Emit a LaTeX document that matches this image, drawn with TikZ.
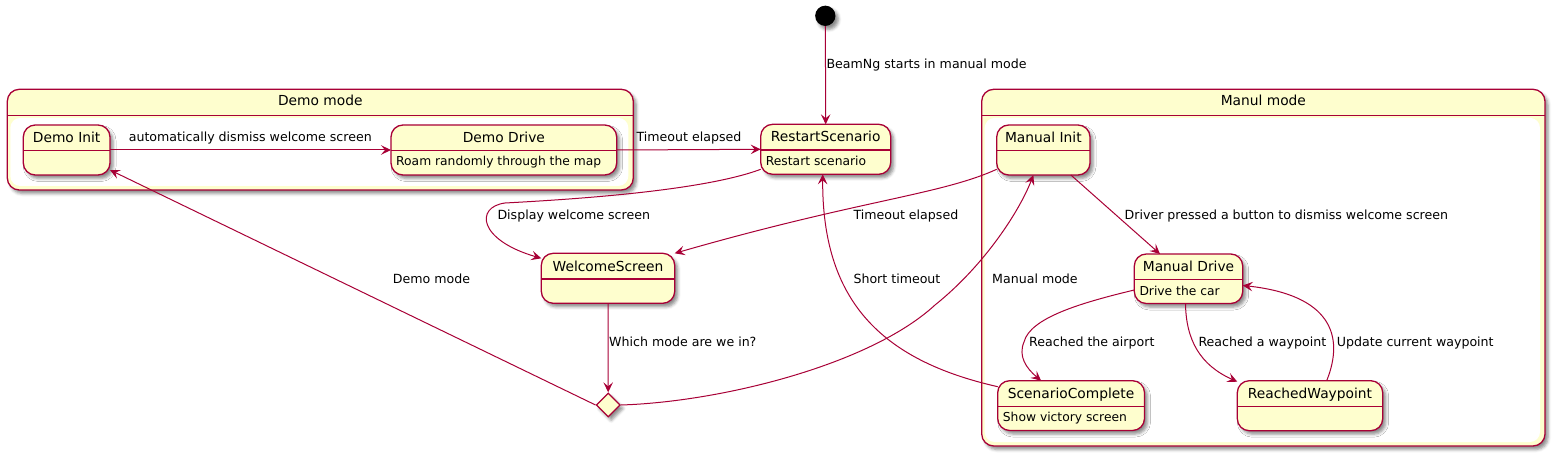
\documentclass[tikz,border=0pt]{standalone}
\usepackage{fontspec}
\setmainfont{DejaVu Sans}
\usetikzlibrary{fit,arrows.meta,shadows.blur,shapes.geometric,calc}
\definecolor{umlred}{RGB}{168,0,54}
\definecolor{umlfill}{RGB}{254,254,206}
\newcommand{\fnName}{\fontsize{13.8}{16}\selectfont}
\newcommand{\fnLab}{\fontsize{12.6}{15}\selectfont}
\newcommand{\fnDesc}{\fontsize{12.3}{15}\selectfont}
\tikzset{
  bd/.style={draw=umlred, line width=1.3pt},
  shad/.style={blur shadow={shadow xshift=3pt, shadow yshift=-3.5pt, shadow blur radius=3pt, shadow opacity=45}},
  st/.style={bd, fill=umlfill, rounded corners=12pt, inner sep=0pt, outer sep=0pt, shad},
  comp/.style={bd, fill=umlfill, rounded corners=12pt, inner sep=0pt, outer sep=0pt, shad},
  nm/.style={font=\fnName, inner sep=0pt, text=black},
  ds/.style={font=\fnDesc, inner sep=0pt, text=black},
  lb/.style={font=\fnLab, inner sep=0pt, text=black, anchor=base west},
  ar/.style={draw=umlred, line width=1pt, -{Stealth[length=10pt,width=9.5pt,inset=4pt]}},
}
\newcommand{\mkstate}[7]{%
  \node[st, fit={(#2,#3) (#4,#5)}] (#1) {};
  \node[nm, anchor=base] (#1-t) at ([yshift=-17.7pt]#1.north) {#6};
  \draw[bd] ([yshift=-25.8pt]#1.north west) -- ([yshift=-25.8pt]#1.north east);
  \node[ds, anchor=base west] (#1-d) at ([xshift=5pt,yshift=-41pt]#1.north west) {#7};
}
\newcommand{\mkcomp}[6]{%
  \node[comp, fit={(#2,#3) (#4,#5)}] (#1) {};
  \draw[bd] ([yshift=-26.4pt]#1.north west) -- ([yshift=-26.4pt]#1.north east);
  \fill[white, rounded corners=10pt] ($(#1.north west)+(3,28.6)$) rectangle ($(#1.south east)+(-5,-4)$);
  \node[nm, anchor=base] (#1-t) at ([yshift=-16.4pt]#1.north) {#6};
}
\begin{document}
\begin{tikzpicture}[x=1pt, y=-1pt]
\useasboundingbox (0,0) rectangle (1555,457);
% composites
\mkcomp{dm}{7.3}{89.3}{633.3}{190}{Demo mode}
\mkcomp{mm}{981.7}{89.3}{1545}{446}{Manul mode}
% states
\mkstate{di}{23.3}{125}{110}{175}{Demo Init}{}
\mkstate{dd}{391}{125}{616.7}{175}{Demo Drive}{Roam randomly through the map}
\mkstate{rs}{760.7}{124.3}{890.7}{174.3}{RestartScenario}{Restart scenario}
\mkstate{ws}{541.3}{253.3}{674.7}{303.3}{WelcomeScreen}{}
\mkstate{mi}{996.7}{125}{1090}{175}{Manual Init}{}
\mkstate{md}{1134.3}{254}{1242.7}{303.5}{Manual Drive}{Drive the car}
\mkstate{sc}{997.7}{380.7}{1144.5}{430.5}{ScenarioComplete}{Show victory screen}
\mkstate{rw}{1237.3}{380.7}{1382.7}{430.7}{ReachedWaypoint}{}
% initial and choice
\node[circle, fill=black, minimum size=20.3pt, inner sep=0pt, shad] (init) at (825.3,15.8) {};
\node[diamond, shape aspect=1, bd, fill=umlfill, minimum width=24pt, minimum height=24pt, inner sep=0pt, shad] (ch) at (608.2,405) {};
% connectors
\draw[ar] (init) -- (rs.north);
\draw[ar] (di.east) -- (dd.west);
\draw[ar] (dd.east) -- (rs.west);
\draw[ar] ([yshift=5pt]rs.south west) .. controls (700,192) and (560,200) .. (505,203)
          .. controls (475,207) and (478,240) .. ([yshift=-5pt]ws.north west);
\draw[ar] ([yshift=5.7pt]mi.south west) .. controls (940,195) and (860,200) .. (ws.north east);
\draw[ar] ([xshift=27.5pt]mi.south) -- ([xshift=-28.5pt]md.north);
\draw[ar] (ws.south) -- (ch.north);
\draw[ar] (ch.west) -- ([yshift=5pt]di.south east);
\draw[ar] (ch.east) .. controls (720,402) and (870,365) .. (935,305)
          .. controls (985,265) and (1020,210) .. ([xshift=-10pt]mi.south);
\draw[ar] ([yshift=-6pt]sc.north west) .. controls (880,360) and (822,300) .. ([xshift=-3pt]rs.south);
\draw[ar] ([yshift=-36pt]md.north west) .. controls (1080,303) and (1030,318) .. (1024,342)
          .. controls (1018,356) and (1026,368) .. ([xshift=-30pt]sc.north);
\draw[ar] ([xshift=-3pt]md.south) .. controls (1186,340) and (1200,365) .. ([yshift=-1pt]rw.north west);
\draw[ar] ([xshift=16.7pt]rw.north) .. controls (1345,335) and (1330,295) .. ([yshift=-6.7pt]md.east);
% labels
\node[lb] (l1) at (826.3,68.6) {BeamNg starts in manual mode};
\node[lb, anchor=base] (l2) at (250.3,142) {automatically dismiss welcome screen};
\node[lb, anchor=base] (l3) at (689,142) {Timeout elapsed};
\node[lb] (l4) at (497.3,219.3) {Display welcome screen};
\node[lb] (l5) at (853.3,219) {Timeout elapsed};
\node[lb] (l6) at (1124.5,219) {Driver pressed a button to dismiss welcome screen};
\node[lb] (l7) at (392.7,283.3) {Demo mode};
\node[lb] (l8) at (853.3,283.3) {Short timeout};
\node[lb] (l9) at (992,283.3) {Manual mode};
\node[lb] (l10) at (609,346.3) {Which mode are we in?};
\node[lb] (l11) at (1029,346.3) {Reached the airport};
\node[lb] (l12) at (1198.3,346.3) {Reached a waypoint};
\node[lb] (l13) at (1336.7,346.3) {Update current waypoint};
\end{tikzpicture}
\end{document}
